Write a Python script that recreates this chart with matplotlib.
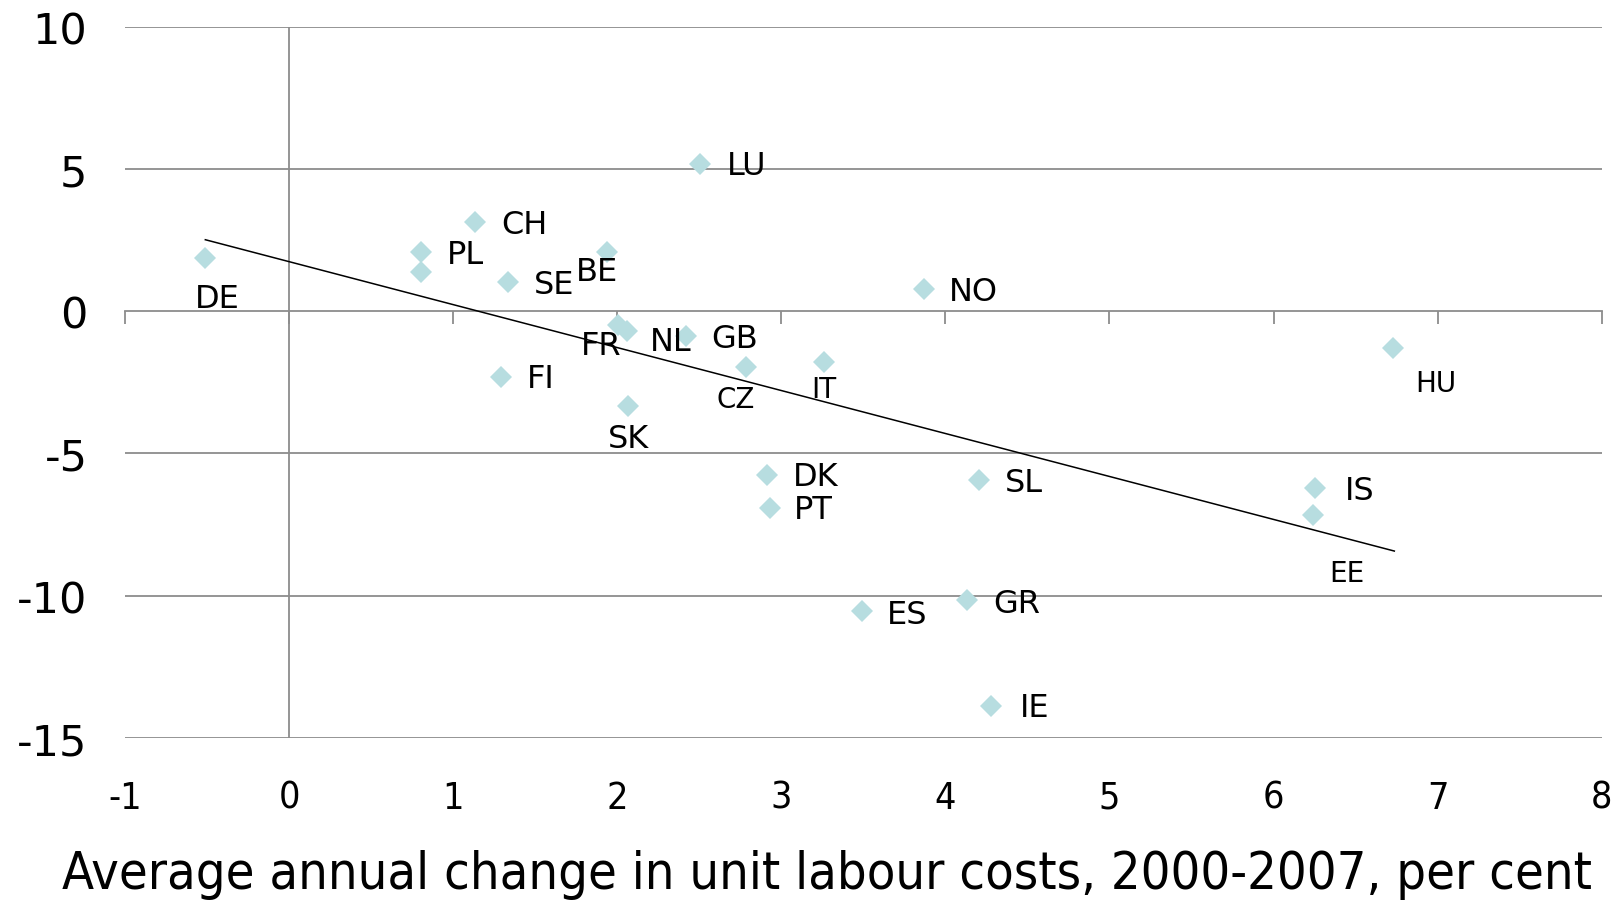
import matplotlib
matplotlib.use('Agg')
import matplotlib.pyplot as plt

# unit labour cost change (x) vs. y-value, per country
countries = ['DE', 'PL', '', 'CH', 'SE', 'BE', 'LU', 'FR', 'NL', 'GB', 'CZ', 'IT',
             'NO', 'FI', 'SK', 'HU', 'DK', 'PT', 'SL', 'IS', 'EE', 'ES', 'GR', 'IE']
ulc_change = [-0.51, 0.806, 0.806, 1.136, 1.336, 1.937, 2.505, 2.006, 2.06, 2.42, 2.787, 3.258,
              3.872, 1.29, 2.068, 6.73, 2.91, 2.93, 4.202, 6.252, 6.242, 3.491, 4.131, 4.281]
yvals = [1.87, 2.09, 1.38, 3.12, 1.03, 2.09, 5.18, -0.47, -0.70, -0.89, -1.95, -1.80,
         0.78, -2.31, -3.33, -1.30, -5.75, -6.90, -5.92, -6.23, -7.16, -10.54, -10.15, -13.86]

# linear trend as drawn in the chart
trend_x = [-0.51, 6.736]
trend_y = [2.51, -8.43]

xticks = [-1, 0, 1, 2, 3, 4, 5, 6, 7, 8]
yticks = [-15, -10, -5, 0, 5, 10]
xlabel = 'Average annual change in unit labour costs, 2000-2007, per cent'

# label placement (points, relative to the marker)
label_offsets = {
    'DE': (8.9, -28.9), 'PL': (31.9, -2.2), 'CH': (35.6, -1.5), 'SE': (33.3, -2.2),
    'BE': (-7.4, -14.1), 'LU': (33.3, -1.5), 'FR': (-11.9, -14.8), 'NL': (31.1, -7.4),
    'GB': (34.8, -1.5), 'CZ': (-7.4, -23.0), 'IT': (0, -19.3), 'NO': (35.6, -1.5),
    'FI': (28.9, -1.5), 'SK': (0, -23.7), 'HU': (30.4, -25.2), 'DK': (35.6, -1.5),
    'PT': (31.1, -1.5), 'SL': (32.6, -2.2), 'IS': (31.9, -1.5), 'EE': (24.5, -41.5),
    'ES': (32.6, -2.2), 'GR': (35.6, -2.2), 'IE': (31.1, -1.5),
}
small_labels = ['CZ', 'HU', 'EE', 'IT']

grid_col = '#8c8c8c'

fig = plt.figure(figsize=(16.14, 9.04), dpi=100)
ax = fig.add_axes([0.0774, 0.1825, 0.915, 0.787])

ax.set_xlim(-1, 8)
ax.set_ylim(-15, 10)

for yv in yticks:
    if yv != 0:
        ax.axhline(yv, color=grid_col, lw=1.3, zorder=1)
ax.axvline(0, color=grid_col, lw=1.3, zorder=1)

for s in ['top', 'right', 'left']:
    ax.spines[s].set_visible(False)
ax.spines['bottom'].set_position(('data', 0))
ax.spines['bottom'].set_color(grid_col)
ax.spines['bottom'].set_linewidth(1.3)
ax.spines['bottom'].set_zorder(1)

ax.set_xticks(xticks)
ax.tick_params(axis='x', direction='out', length=9, width=1.3, color=grid_col, labelbottom=False)
ax.set_yticks(yticks)
ax.set_yticklabels([str(v) for v in yticks])
ax.tick_params(axis='y', length=0, pad=27, labelsize=31)

# x labels sit below the plot, not at the axis line
sec = ax.secondary_xaxis('bottom')
sec.set_xticks(xticks)
sec.set_xticklabels([str(v) for v in xticks], fontsize=27, fontstretch='condensed')
sec.tick_params(length=0, pad=30)
sec.spines['bottom'].set_visible(False)

ax.plot(trend_x, trend_y, color='black', lw=1.1, zorder=2)
ax.plot(ulc_change, yvals, linestyle='none', marker='D', markersize=11.5,
        color='#b7dde0', markeredgewidth=0, zorder=3)

for c, xv, yv in zip(countries, ulc_change, yvals):
    if not c:
        continue
    dx, dy = label_offsets[c]
    ax.annotate(c, (xv, yv), xytext=(dx, dy), textcoords='offset points',
                ha='center', va='center', fontsize=20 if c in small_labels else 23,
                zorder=4)

fig.text(0.0383, 0.032, xlabel, fontsize=37.5, fontstretch='condensed',
         ha='left', va='center')

fig.savefig('out.png', dpi=100)
